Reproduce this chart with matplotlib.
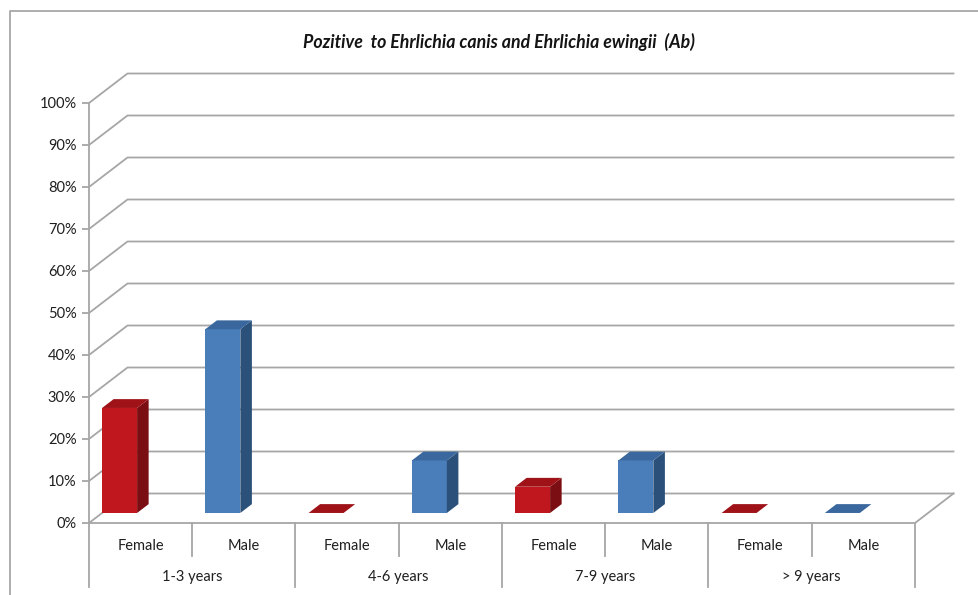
import matplotlib.pyplot as plt
from matplotlib.patches import Polygon
from matplotlib.lines import Line2D
from matplotlib.ticker import PercentFormatter

ages = ['1-3 years', '4-6 years', '7-9 years', '> 9 years']
sexes = ['Female', 'Male']
female = [25, 0, 6.25, 0]
male = [43.75, 12.5, 12.5, 0]
yticks = list(range(0, 101, 10))

# face colours (front, side, top) for each sex
colors = {
    'Female': ('#C0171F', '#7A0E12', '#9E1218'),
    'Male': ('#4A7EBB', '#2B5079', '#3A679E'),
}
grid_color = '#A6A6A6'
text_color = '#1F1F1F'

plt.rcParams['font.family'] = ['Lato', 'DejaVu Sans']

W, H = 979, 595
fig = plt.figure(figsize=(W / 100, H / 100), dpi=100)
ax_l, ax_b, ax_w, ax_h = 89, 72, 826, 420
ax = fig.add_axes([ax_l / W, ax_b / H, ax_w / W, ax_h / H])
n = len(ages) * len(sexes)
ax.set_xlim(0, n)
ax.set_ylim(0, 100)

# oblique depth of the box, pixels -> data units
px_x = n / ax_w
px_y = 100 / ax_h
dx, dy = 38.5 * px_x, 29.5 * px_y

# back wall gridlines with their diagonals on the left side wall
for v in yticks:
    ax.plot([0, dx, n + dx], [v, v + dy, v + dy], color=grid_color,
            lw=1.3, clip_on=False, zorder=1)
# floor front edge and right edge
ax.plot([0, n, n + dx], [0, 0, dy], color=grid_color, lw=1.3,
        clip_on=False, zorder=1)

# bars
values = []
for f, m in zip(female, male):
    values += [('Female', f), ('Male', m)]

bw = 35 * px_x
d0, d1 = 0.34, 0.64
for i, (sex, v) in enumerate(values):
    front, side, top = colors[sex]
    x0 = i + d0 * dx
    y0 = d0 * dy
    ox, oy = (d1 - d0) * dx, (d1 - d0) * dy
    if v > 0:
        ax.add_patch(Polygon([(x0, y0), (x0 + bw, y0), (x0 + bw, y0 + v),
                              (x0, y0 + v)], closed=True, fc=front,
                             ec='none', zorder=3, clip_on=False))
        ax.add_patch(Polygon([(x0 + bw, y0), (x0 + bw + ox, y0 + oy),
                              (x0 + bw + ox, y0 + oy + v), (x0 + bw, y0 + v)],
                             closed=True, fc=side, ec='none', zorder=3,
                             clip_on=False))
    ax.add_patch(Polygon([(x0, y0 + v), (x0 + bw, y0 + v),
                          (x0 + bw + ox, y0 + oy + v), (x0 + ox, y0 + oy + v)],
                         closed=True, fc=top, ec='none', zorder=3,
                         clip_on=False))

# y axis
for s in ['top', 'right', 'bottom']:
    ax.spines[s].set_visible(False)
ax.spines['left'].set_color(grid_color)
ax.spines['left'].set_linewidth(1.3)
ax.set_yticks(yticks)
ax.yaxis.set_major_formatter(PercentFormatter(decimals=0))
ax.tick_params(axis='y', colors=grid_color, labelcolor=text_color,
               length=5, width=1.3, labelsize=10.5, pad=4)
ax.set_xticks([])

# category table under the floor
row1 = -33 * px_y
row2 = -64 * px_y
for i in range(n + 1):
    bottom = row2 if i % 2 == 0 else row1
    ax.plot([i, i], [0, bottom], color=grid_color, lw=1.3, clip_on=False,
            zorder=1)
for i, (sex, v) in enumerate(values):
    ax.text(i + 0.5, -23 * px_y, sex, ha='center', va='center',
            fontsize=10.5, color=text_color)
for k, age in enumerate(ages):
    ax.text(2 * k + 1, -54 * px_y, age, ha='center', va='center',
            fontsize=10.5, color=text_color)

fig.text(499 / W, 1 - 42 / H,
         'Pozitive  to Ehrlichia canis and Ehrlichia ewingii  (Ab)',
         ha='center', va='center', fontsize=12.8, fontweight='bold',
         style='italic', color='#141414')

# chart area border
fig.add_artist(Line2D([10 / W, 10 / W, 1], [0, 1 - 11 / H, 1 - 11 / H],
                      transform=fig.transFigure, color='#A0A0A0', lw=1.2))

fig.savefig('out.png', dpi=100)
